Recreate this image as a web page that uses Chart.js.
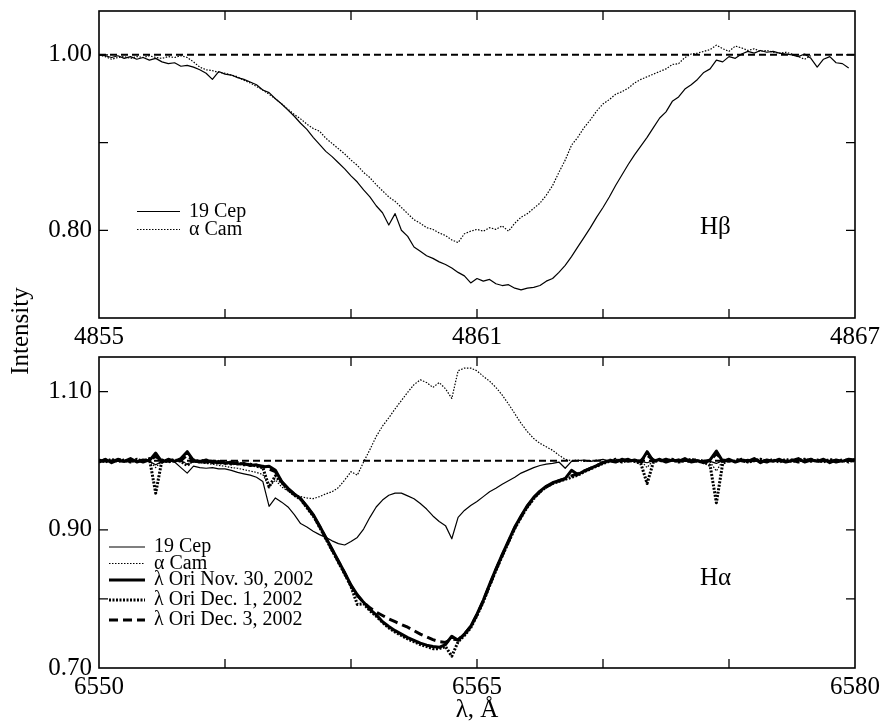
<!DOCTYPE html>
<html>
<head>
<meta charset="utf-8">
<script src="https://cdn.jsdelivr.net/npm/chart.js@4.4.1/dist/chart.umd.min.js"></script>
<style>
  html, body { margin: 0; padding: 0; background: #fff; overflow: hidden; }
  #wrap { position: relative; width: 885px; height: 723px; }
  canvas { position: absolute; left: 0; }
  #hb { top: 0; }
  #ha { top: 345px; }
  #ylab {
    position: absolute; left: -39px; top: 316px; width: 120px; height: 30px;
    line-height: 30px; text-align: center; font: 25px "Liberation Serif"; color: #000;
    transform: rotate(-90deg);
  }
</style>
</head>
<body>
<div id="wrap">
  <canvas id="hb" width="885" height="345"></canvas>
  <canvas id="ha" width="885" height="378"></canvas>
  <div id="ylab">Intensity</div>
</div>
<script>
// ---- H-beta panel ----
const hbWave = [
  4855.0, 4855.1, 4855.2, 4855.3, 4855.4, 4855.5, 4855.6, 4855.7, 4855.8, 4855.9,
  4856.0, 4856.1, 4856.2, 4856.3, 4856.4, 4856.5, 4856.6, 4856.7, 4856.8, 4856.9,
  4857.0, 4857.1, 4857.2, 4857.3, 4857.4, 4857.5, 4857.6, 4857.7, 4857.8, 4857.9,
  4858.0, 4858.1, 4858.2, 4858.3, 4858.4, 4858.5, 4858.6, 4858.7, 4858.8, 4858.9,
  4859.0, 4859.1, 4859.2, 4859.3, 4859.4, 4859.5, 4859.6, 4859.7, 4859.8, 4859.9,
  4860.0, 4860.1, 4860.2, 4860.3, 4860.4, 4860.5, 4860.6, 4860.7, 4860.8, 4860.9,
  4861.0, 4861.1, 4861.2, 4861.3, 4861.4, 4861.5, 4861.6, 4861.7, 4861.8, 4861.9,
  4862.0, 4862.1, 4862.2, 4862.3, 4862.4, 4862.5, 4862.6, 4862.7, 4862.8, 4862.9,
  4863.0, 4863.1, 4863.2, 4863.3, 4863.4, 4863.5, 4863.6, 4863.7, 4863.8, 4863.9,
  4864.0, 4864.1, 4864.2, 4864.3, 4864.4, 4864.5, 4864.6, 4864.7, 4864.8, 4864.9,
  4865.0, 4865.1, 4865.2, 4865.3, 4865.4, 4865.5, 4865.6, 4865.7, 4865.8, 4865.9,
  4866.0, 4866.1, 4866.2, 4866.3, 4866.4, 4866.5, 4866.6, 4866.7, 4866.8, 4866.9
];
const hbCep19 = [
  1.000, 0.999, 0.997, 0.999, 0.996, 0.998, 0.995, 0.997, 0.994, 0.996,
  0.992, 0.990, 0.991, 0.987, 0.988, 0.986, 0.983, 0.979, 0.972, 0.981,
  0.978, 0.977, 0.974, 0.972, 0.969, 0.966, 0.960, 0.957, 0.950, 0.944,
  0.937, 0.930, 0.922, 0.915, 0.906, 0.898, 0.890, 0.884, 0.877, 0.870,
  0.862, 0.855, 0.846, 0.838, 0.828, 0.820, 0.806, 0.819, 0.800, 0.793,
  0.781, 0.776, 0.771, 0.768, 0.764, 0.761, 0.757, 0.752, 0.748, 0.740,
  0.745, 0.742, 0.744, 0.739, 0.737, 0.738, 0.734, 0.732, 0.734, 0.735,
  0.737, 0.742, 0.745, 0.752, 0.760, 0.770, 0.781, 0.792, 0.803, 0.815,
  0.826, 0.838, 0.851, 0.863, 0.875, 0.886, 0.896, 0.906, 0.917, 0.928,
  0.935, 0.947, 0.952, 0.961, 0.966, 0.972, 0.980, 0.984, 0.994, 0.992,
  0.998, 0.996, 1.001, 1.004, 1.002, 1.005, 1.003, 1.004, 1.002, 1.001,
  1.000, 0.998, 1.001, 0.996, 0.986, 0.995, 0.998, 0.991, 0.990, 0.985
];
const hbAlfCam = [
  1.000, 0.998, 0.995, 0.997, 0.998, 0.996, 0.998, 0.997, 0.999, 0.997,
  0.996, 0.998, 0.997, 0.999, 0.997, 0.992, 0.986, 0.983, 0.982, 0.980,
  0.979, 0.977, 0.975, 0.971, 0.968, 0.964, 0.960, 0.955, 0.950, 0.944,
  0.938, 0.932, 0.927, 0.921, 0.916, 0.913, 0.905, 0.899, 0.893, 0.887,
  0.880, 0.874, 0.866, 0.860, 0.852, 0.845, 0.838, 0.833, 0.826, 0.819,
  0.812, 0.808, 0.803, 0.801, 0.797, 0.794, 0.789, 0.786, 0.796, 0.799,
  0.801, 0.799, 0.803, 0.801, 0.805, 0.799, 0.808, 0.815, 0.819, 0.825,
  0.831, 0.840, 0.851, 0.866, 0.880, 0.897, 0.906, 0.917, 0.926, 0.936,
  0.944, 0.949, 0.955, 0.958, 0.962, 0.968, 0.972, 0.975, 0.978, 0.981,
  0.984, 0.989, 0.990, 0.997, 1.001, 1.002, 1.004, 1.006, 1.011, 1.007,
  1.004, 1.010, 1.008, 1.005, 1.007, 1.004, 1.005, 1.003, 1.002, 1.003,
  1.001, 0.998, 0.995, 0.999
];
const hbXTicks = [4855, 4857, 4859, 4861, 4863, 4865, 4867];
const hbXLabels = ['4855', '', '', '4861', '', '', '4867'];
const hbYTicks = [0.80, 0.90, 1.00];
const hbYLabels = ['0.80', '', '1.00'];

// ---- H-alpha panel ----
const haWave = [
  6550.00, 6550.25, 6550.50, 6550.75, 6551.00, 6551.25, 6551.50, 6551.75, 6552.00, 6552.25,
  6552.50, 6552.75, 6553.00, 6553.25, 6553.50, 6553.75, 6554.00, 6554.25, 6554.50, 6554.75,
  6555.00, 6555.25, 6555.50, 6555.75, 6556.00, 6556.25, 6556.50, 6556.75, 6557.00, 6557.25,
  6557.50, 6557.75, 6558.00, 6558.25, 6558.50, 6558.75, 6559.00, 6559.25, 6559.50, 6559.75,
  6560.00, 6560.25, 6560.50, 6560.75, 6561.00, 6561.25, 6561.50, 6561.75, 6562.00, 6562.25,
  6562.50, 6562.75, 6563.00, 6563.25, 6563.50, 6563.75, 6564.00, 6564.25, 6564.50, 6564.75,
  6565.00, 6565.25, 6565.50, 6565.75, 6566.00, 6566.25, 6566.50, 6566.75, 6567.00, 6567.25,
  6567.50, 6567.75, 6568.00, 6568.25, 6568.50, 6568.75, 6569.00, 6569.25, 6569.50, 6569.75,
  6570.00, 6570.25, 6570.50, 6570.75, 6571.00, 6571.25, 6571.50, 6571.75, 6572.00, 6572.25,
  6572.50, 6572.75, 6573.00, 6573.25, 6573.50, 6573.75, 6574.00, 6574.25, 6574.50, 6574.75,
  6575.00, 6575.25, 6575.50, 6575.75, 6576.00, 6576.25, 6576.50, 6576.75, 6577.00, 6577.25,
  6577.50, 6577.75, 6578.00, 6578.25, 6578.50, 6578.75, 6579.00, 6579.25, 6579.50, 6579.75,
  6580.00
];
const haCep19 = [
  1.000, 0.998, 1.001, 0.999, 0.998, 1.000, 0.999, 1.001, 0.999, 0.994,
  0.999, 1.000, 0.998, 0.990, 0.982, 0.992, 0.990, 0.989, 0.990, 0.988,
  0.988, 0.986, 0.983, 0.981, 0.979, 0.976, 0.970, 0.934, 0.946, 0.940,
  0.933, 0.922, 0.909, 0.904, 0.898, 0.893, 0.889, 0.884, 0.880, 0.878,
  0.883, 0.889, 0.901, 0.918, 0.933, 0.943, 0.950, 0.953, 0.953, 0.949,
  0.945, 0.938, 0.930, 0.920, 0.912, 0.906, 0.887, 0.918, 0.928, 0.935,
  0.941, 0.948, 0.955, 0.960, 0.966, 0.971, 0.976, 0.982, 0.986, 0.990,
  0.993, 0.995, 0.996, 0.998, 0.989, 0.999, 1.000, 1.001, 0.999, 1.000,
  1.002, 0.999, 1.000, 0.998, 1.001, 1.000, 0.999, 0.997, 1.000, 1.001,
  0.999, 1.000, 1.002, 0.999, 1.000, 1.001, 0.998, 0.999, 0.996, 1.000,
  1.001, 0.999, 1.000, 1.002, 0.999, 1.000, 0.998, 1.001, 1.000, 0.999,
  1.001, 1.000, 0.998, 1.000, 1.001, 0.999, 1.000, 1.001, 0.999, 1.000,
  1.000
];
const haAlfCam = [
  1.000, 1.001, 0.999, 1.000, 1.002, 0.999, 1.000, 0.998, 1.000, 0.990,
  1.000, 0.999, 1.000, 1.001, 0.995, 0.998, 0.997, 0.996, 0.995, 0.993,
  0.992, 0.990, 0.989, 0.987, 0.985, 0.983, 0.980, 0.962, 0.972, 0.962,
  0.956, 0.951, 0.948, 0.946, 0.945, 0.948, 0.952, 0.955, 0.961, 0.972,
  0.984, 0.979, 0.998, 1.016, 1.035, 1.050, 1.062, 1.075, 1.087, 1.099,
  1.110, 1.117, 1.113, 1.106, 1.113, 1.104, 1.090, 1.130, 1.134, 1.134,
  1.130, 1.122, 1.115, 1.106, 1.095, 1.082, 1.068, 1.054, 1.042, 1.032,
  1.025, 1.020, 1.015, 1.008, 1.002, 1.000, 1.001, 0.999, 1.000, 1.001,
  0.999, 1.000, 1.002, 0.999, 1.000, 0.998, 1.000, 0.990, 1.001, 0.999,
  1.000, 1.001, 0.999, 1.000, 1.002, 0.999, 1.000, 0.998, 0.985, 1.000,
  1.001, 0.999, 1.000, 0.998, 1.001, 1.000, 0.999, 1.001, 1.000, 0.999,
  1.002, 1.000, 0.999, 1.000, 1.001, 0.999, 1.000, 1.001, 0.999, 1.000,
  1.000
];
const haOriNov30 = [
  0.998, 1.002, 0.997, 1.001, 0.999, 1.003, 0.998, 1.001, 1.000, 1.011,
  0.998, 1.002, 0.999, 1.003, 1.013, 1.000, 0.998, 1.001, 0.997, 0.999,
  0.996, 0.998, 0.995, 0.996, 0.993, 0.994, 0.991, 0.992, 0.986, 0.970,
  0.960, 0.952, 0.945, 0.934, 0.922, 0.906, 0.889, 0.872, 0.855, 0.838,
  0.820, 0.806, 0.795, 0.785, 0.777, 0.767, 0.760, 0.754, 0.749, 0.744,
  0.740, 0.736, 0.733, 0.731, 0.730, 0.734, 0.746, 0.740, 0.749, 0.760,
  0.778, 0.798, 0.821, 0.843, 0.864, 0.884, 0.904, 0.920, 0.935, 0.947,
  0.956, 0.963, 0.968, 0.971, 0.974, 0.986, 0.980, 0.985, 0.989, 0.993,
  0.997, 1.000, 0.998, 1.002, 0.999, 1.001, 0.998, 1.013, 0.999, 1.002,
  0.998, 1.001, 0.999, 1.003, 0.998, 1.000, 0.997, 1.001, 1.014, 0.999,
  1.002, 0.998, 1.001, 0.999, 1.003, 0.997, 1.001, 0.999, 1.002, 0.998,
  1.000, 1.003, 0.998, 1.001, 0.999, 1.002, 0.997, 1.001, 0.999, 1.002,
  1.001
];
const haOriDec1 = [
  1.001, 0.998, 1.002, 0.999, 1.001, 0.998, 1.002, 0.999, 1.003, 0.953,
  1.001, 0.998, 1.001, 0.999, 0.993, 1.001, 0.999, 0.997, 1.000, 0.996,
  0.998, 0.995, 0.997, 0.994, 0.995, 0.992, 0.990, 0.962, 0.978, 0.968,
  0.958, 0.950, 0.944, 0.932, 0.920, 0.904, 0.887, 0.870, 0.853, 0.836,
  0.818, 0.792, 0.793, 0.783, 0.775, 0.766, 0.758, 0.752, 0.747, 0.742,
  0.738, 0.734, 0.731, 0.728, 0.728, 0.731, 0.717, 0.738, 0.747, 0.758,
  0.776, 0.796, 0.819, 0.841, 0.862, 0.882, 0.902, 0.918, 0.933, 0.945,
  0.955, 0.962, 0.967, 0.970, 0.973, 0.976, 0.979, 0.984, 0.988, 0.992,
  0.996, 0.999, 1.002, 0.998, 1.001, 0.999, 0.996, 0.967, 0.998, 1.001,
  0.999, 1.002, 0.998, 1.000, 1.002, 0.999, 0.998, 0.993, 0.939, 0.996,
  1.001, 0.999, 1.002, 0.998, 1.000, 1.002, 0.999, 1.001, 0.998, 1.002,
  0.999, 1.000, 1.002, 0.999, 1.001, 0.998, 1.002, 0.999, 1.001, 0.998,
  1.002
];
const haOriDec3 = [
  0.999, 1.001, 0.998, 1.002, 1.000, 0.999, 1.001, 0.998, 1.001, 1.006,
  1.000, 0.999, 1.002, 1.000, 1.008, 0.999, 1.001, 0.998, 0.999, 0.997,
  0.998, 0.996, 0.997, 0.995, 0.994, 0.993, 0.992, 0.988, 0.984, 0.969,
  0.959, 0.951, 0.945, 0.933, 0.921, 0.905, 0.888, 0.871, 0.854, 0.837,
  0.819, 0.805, 0.795, 0.787, 0.781, 0.776, 0.771, 0.767, 0.763, 0.759,
  0.754, 0.749, 0.745, 0.741, 0.738, 0.737, 0.742, 0.741, 0.749, 0.760,
  0.777, 0.797, 0.820, 0.842, 0.863, 0.883, 0.903, 0.919, 0.934, 0.946,
  0.955, 0.962, 0.967, 0.971, 0.974, 0.978, 0.981, 0.985, 0.989, 0.993,
  0.997, 1.001, 0.999, 1.000, 1.002, 0.998, 1.000, 1.008, 1.001, 0.999,
  1.002, 0.999, 1.001, 0.998, 1.000, 1.002, 0.999, 1.000, 1.010, 1.001,
  0.999, 1.002, 1.000, 0.998, 1.001, 1.000, 0.998, 1.002, 1.000, 0.999,
  1.001, 0.998, 1.000, 1.002, 0.999, 1.000, 1.001, 0.998, 1.000, 1.001,
  0.999
];
const haXTicks = [6550, 6555, 6560, 6565, 6570, 6575, 6580];
const haXLabels = ['6550', '', '', '6565', '', '', '6580'];
const haYTicks = [0.70, 0.80, 0.90, 1.00, 1.10];
const haYLabels = ['0.70', '', '0.90', '', '1.10'];

const continuum = 1.00;

Chart.defaults.font.family = '"Liberation Serif", "Times New Roman", serif';
Chart.defaults.color = '#000';

function pts(wave, vals) {
  return vals.map((v, i) => ({x: wave[i], y: v}));
}

function xScale(min, max, ticks, labels, height, title) {
  return {
    type: 'linear', min: min, max: max,
    afterBuildTicks: s => { s.ticks = ticks.map(v => ({value: v})); },
    afterFit: s => { s.height = height; s.paddingLeft = 0; s.paddingRight = 0; },
    grid: {display: false, drawTicks: false},
    border: {display: false},
    ticks: {autoSkip: false, maxRotation: 0, padding: 4, font: {size: 25}, callback: (v, i) => labels[i]},
    title: title ? {display: true, text: title, font: {size: 25, lineHeight: 1}, padding: 0} : {display: false}
  };
}

function yScale(min, max, ticks, labels) {
  return {
    type: 'linear', min: min, max: max,
    afterBuildTicks: s => { s.ticks = ticks.map(v => ({value: v})); },
    afterFit: s => { s.width = 99; s.paddingTop = 0; s.paddingBottom = 0; },
    grid: {display: false, drawTicks: false},
    border: {display: false},
    ticks: {padding: 7, font: {size: 25}, callback: (v, i) => labels[i]}
  };
}

// frame, inward tick marks, line name and a hand-placed legend
const panelDecor = {
  id: 'panelDecor',
  afterDatasetsDraw(chart, args, opts) {
    const {ctx, chartArea: a, scales} = chart;
    ctx.save();
    ctx.strokeStyle = '#000';
    ctx.setLineDash([]);
    ctx.lineWidth = 1.6;
    ctx.strokeRect(a.left, a.top, a.right - a.left, a.bottom - a.top);

    ctx.lineWidth = 1.3;
    ctx.beginPath();
    scales.x.ticks.forEach(t => {
      const px = scales.x.getPixelForValue(t.value);
      if (px <= a.left + 1 || px >= a.right - 1) return;
      ctx.moveTo(px, a.bottom); ctx.lineTo(px, a.bottom - 9);
      ctx.moveTo(px, a.top); ctx.lineTo(px, a.top + 9);
    });
    scales.y.ticks.forEach(t => {
      const py = scales.y.getPixelForValue(t.value);
      if (py <= a.top + 1 || py >= a.bottom - 1) return;
      ctx.moveTo(a.left, py); ctx.lineTo(a.left + 9, py);
      ctx.moveTo(a.right, py); ctx.lineTo(a.right - 9, py);
    });
    ctx.stroke();

    ctx.fillStyle = '#000';
    ctx.font = '25px "Liberation Serif"';
    ctx.textBaseline = 'alphabetic';
    ctx.fillText(opts.name, scales.x.getPixelForValue(opts.nameAt[0]), scales.y.getPixelForValue(opts.nameAt[1]));

    ctx.font = '20px "Liberation Serif"';
    ctx.textBaseline = 'middle';
    const lx = a.left + opts.legendX;
    let row = 0;
    chart.data.datasets.forEach(ds => {
      if (ds.noLegend) return;
      const y = a.top + opts.legendRows[row++];
      ctx.lineWidth = ds.borderWidth;
      ctx.setLineDash(ds.borderDash || []);
      ctx.beginPath();
      ctx.moveTo(lx, y);
      ctx.lineTo(lx + opts.legendLen, y);
      ctx.stroke();
      ctx.setLineDash([]);
      ctx.fillText(ds.label, lx + opts.legendLen + 9, y);
    });
    ctx.restore();
  }
};

const thinSolid = {borderColor: '#000', borderWidth: 1.2, pointRadius: 0, tension: 0};
const thinDot = {borderColor: '#000', borderWidth: 1.2, borderDash: [1.5, 1.5], pointRadius: 0, tension: 0};
const contStyle = {borderColor: '#000', borderWidth: 2, borderDash: [7, 4], pointRadius: 0, noLegend: true};

function baseOptions(decor) {
  return {
    responsive: false,
    animation: false,
    events: [],
    layout: {padding: decor.pad},
    plugins: {legend: {display: false}, tooltip: {enabled: false}, panelDecor: decor.opts},
    elements: {line: {borderCapStyle: 'butt', borderJoinStyle: 'round'}}
  };
}

// top: H-beta
const hbOpts = baseOptions({
  pad: {top: 11, right: 30, bottom: 0, left: 0},
  opts: {name: 'H\u03b2', nameAt: [4864.54, 0.796], legendX: 38, legendLen: 43,
         legendRows: [200.5, 218.5]}
});
hbOpts.scales = {
  x: xScale(4855, 4867, hbXTicks, hbXLabels, 27, null),
  y: yScale(0.70, 1.05, hbYTicks, hbYLabels)
};
new Chart(document.getElementById('hb'), {
  type: 'line',
  data: {
    datasets: [
      Object.assign({label: '19 Cep', data: pts(hbWave, hbCep19)}, thinSolid),
      Object.assign({label: '\u03b1 Cam', data: pts(hbWave, hbAlfCam)}, thinDot),
      Object.assign({label: 'continuum', data: [{x: 4855, y: continuum}, {x: 4867, y: continuum}]}, contStyle)
    ]
  },
  options: hbOpts,
  plugins: [panelDecor]
});

// bottom: H-alpha
const haOpts = baseOptions({
  pad: {top: 12, right: 30, bottom: 0, left: 0},
  opts: {name: 'H\u03b1', nameAt: [6573.85, 0.820], legendX: 10, legendLen: 36,
         legendRows: [190, 206.5, 223, 243, 263]}
});
haOpts.scales = {
  x: xScale(6550, 6580, haXTicks, haXLabels, 55, '\u03bb, \u00c5'),
  y: yScale(0.70, 1.15, haYTicks, haYLabels)
};
new Chart(document.getElementById('ha'), {
  type: 'line',
  data: {
    datasets: [
      Object.assign({label: '19 Cep', data: pts(haWave, haCep19)}, thinSolid),
      Object.assign({label: '\u03b1 Cam', data: pts(haWave, haAlfCam)}, thinDot),
      {label: '\u03bb Ori Nov. 30, 2002', data: pts(haWave, haOriNov30), borderColor: '#000', borderWidth: 3, pointRadius: 0},
      {label: '\u03bb Ori Dec. 1, 2002', data: pts(haWave, haOriDec1), borderColor: '#000', borderWidth: 3, borderDash: [2, 1.5], pointRadius: 0},
      {label: '\u03bb Ori Dec. 3, 2002', data: pts(haWave, haOriDec3), borderColor: '#000', borderWidth: 3, borderDash: [9, 5], pointRadius: 0},
      Object.assign({label: 'continuum', data: [{x: 6550, y: continuum}, {x: 6580, y: continuum}]}, contStyle)
    ]
  },
  options: haOpts,
  plugins: [panelDecor]
});
</script>
</body>
</html>
